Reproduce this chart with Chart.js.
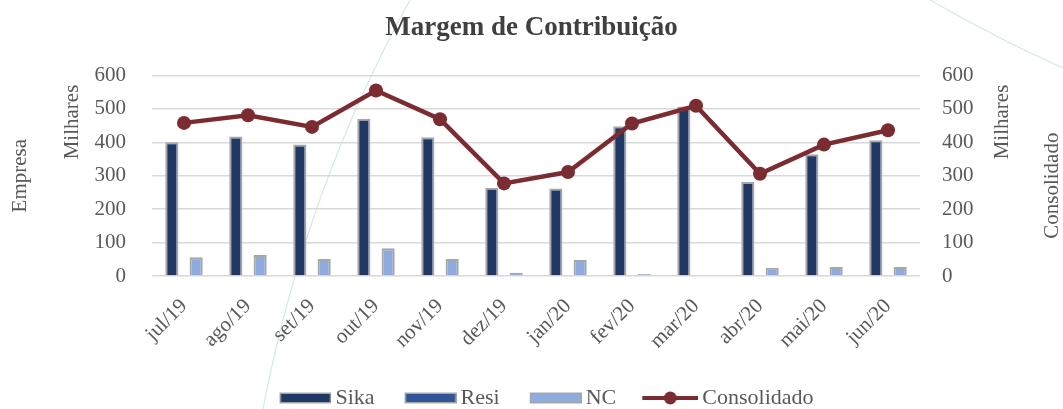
<!DOCTYPE html>
<html>
<head>
<meta charset="utf-8">
<script src="https://cdn.jsdelivr.net/npm/chart.js@4.4.1/dist/chart.umd.min.js"></script>
<style>
  html, body { margin: 0; padding: 0; background: #fff; }
  #wrap { width: 1063px; height: 409px; position: relative; }
</style>
</head>
<body>
<div id="wrap"><canvas id="chart"></canvas></div>
<script>
// values in thousands (Milhares)
const months = ['jul/19', 'ago/19', 'set/19', 'out/19', 'nov/19', 'dez/19', 'jan/20', 'fev/20', 'mar/20', 'abr/20', 'mai/20', 'jun/20'];
const sika = [400, 417, 393, 470, 415, 264, 262, 448, 507, 281, 364, 406];
const resi = [0, 0, 0, 0, 0, 0, 0, 0, 0, 0, 0, 0];
const nc = [56, 63, 51, 83, 51, 10, 48, 6, 2, 25, 27, 27];
const consolidado = [458, 481, 446, 555, 469, 277, 311, 456, 509, 306, 393, 436];
const yTicks = [0, 100, 200, 300, 400, 500, 600];

const SERIF = "'Liberation Serif', 'DejaVu Serif', serif";
const TXT = '#595959';
const LINE_COLOR = '#7b2c31';
const EDGE = '#a6a6a6';

// legend markers: blank lead-in on the left gives the gap between items
const ICON_W = 89, ICON_H = 16;
function boxIcon(color) {
    const c = document.createElement('canvas');
    c.width = ICON_W; c.height = ICON_H;
    const g = c.getContext('2d');
    g.fillStyle = EDGE;
    g.fillRect(ICON_W - 52, 2.5, 52, 11);
    g.fillStyle = color;
    g.fillRect(ICON_W - 50.5, 4, 49, 8);
    return c;
}
function lineIcon() {
    const c = document.createElement('canvas');
    c.width = ICON_W; c.height = ICON_H;
    const g = c.getContext('2d');
    const x0 = ICON_W - 56;
    g.strokeStyle = LINE_COLOR;
    g.lineWidth = 4;
    g.beginPath(); g.moveTo(x0, 8); g.lineTo(ICON_W, 8); g.stroke();
    g.fillStyle = LINE_COLOR;
    g.beginPath(); g.arc(x0 + 28, 8, 6.5, 0, Math.PI * 2); g.fill();
    return c;
}

// faint decorative curves + extra rotated labels
const extras = {
    id: 'extras',
    beforeDraw(chart) {
        const ctx = chart.ctx;
        ctx.save();
        ctx.strokeStyle = 'rgba(185, 215, 215, 0.6)';
        ctx.lineWidth = 1.2;
        ctx.beginPath();
        ctx.moveTo(410, 0);
        ctx.quadraticCurveTo(305, 190, 263, 409);
        ctx.stroke();
        ctx.beginPath();
        ctx.moveTo(930, 0);
        ctx.quadraticCurveTo(1000, 40, 1063, 68);
        ctx.stroke();
        ctx.restore();
    },
    afterDraw(chart) {
        const ctx = chart.ctx;
        const mid = (chart.chartArea.top + chart.chartArea.bottom) / 2;
        const put = (text, x, y) => {
            ctx.save();
            ctx.translate(x, y);
            ctx.rotate(-Math.PI / 2);
            ctx.font = '21px ' + SERIF;
            ctx.fillStyle = TXT;
            ctx.textAlign = 'center';
            ctx.textBaseline = 'middle';
            ctx.fillText(text, 0, 0);
            ctx.restore();
        };
        put('Milhares', 72, 122);
        put('Milhares', 1002, 122);
        put('Consolidado', 1052, mid + 10);
    }
};

const ctx = document.getElementById('chart');
new Chart(ctx, {
    data: {
        labels: months,
        datasets: [
            { type: 'bar', label: 'Sika', data: sika, backgroundColor: '#203864', borderColor: EDGE, borderWidth: 2, yAxisID: 'y', order: 1 },
            { type: 'bar', label: 'Resi', data: resi, backgroundColor: '#2f5597', borderColor: EDGE, borderWidth: 2, yAxisID: 'y', order: 1 },
            { type: 'bar', label: 'NC', data: nc, backgroundColor: '#8faadc', borderColor: EDGE, borderWidth: 2, yAxisID: 'y', order: 1 },
            {
                type: 'line', label: 'Consolidado', data: consolidado, yAxisID: 'y1', order: 0,
                borderColor: LINE_COLOR, backgroundColor: LINE_COLOR, borderWidth: 4.5,
                pointRadius: 7, pointHoverRadius: 7, pointBorderWidth: 0, tension: 0
            }
        ]
    },
    options: {
        responsive: true,
        maintainAspectRatio: false,
        animation: false,
        datasets: { bar: { barPercentage: 1.08, categoryPercentage: 0.57 } },
        layout: { padding: { top: 0, bottom: -10, left: 0, right: 0 } },
        plugins: {
            title: {
                display: true,
                text: 'Margem de Contribuição',
                color: '#404040',
                font: { family: SERIF, size: 27, weight: 'bold' },
                padding: { top: 12, bottom: 31 }
            },
            legend: {
                position: 'bottom',
                labels: {
                    usePointStyle: true,
                    pointStyleWidth: 75,
                    color: TXT,
                    font: { family: SERIF, size: 22 },
                    padding: 0,
                    generateLabels(chart) {
                        const icons = [boxIcon('#203864'), boxIcon('#2f5597'), boxIcon('#8faadc'), lineIcon()];
                        return chart.data.datasets.map((ds, i) => ({
                            text: ds.label,
                            pointStyle: icons[i],
                            fontColor: TXT,
                            hidden: false,
                            datasetIndex: i,
                            lineWidth: 0
                        }));
                    }
                }
            },
            tooltip: { enabled: false }
        },
        scales: {
            x: {
                grid: { display: false },
                border: { display: false },
                ticks: {
                    color: TXT, font: { family: SERIF, size: 21 },
                    maxRotation: 45, minRotation: 45, autoSkip: false, padding: 10
                },
                afterFit(scale) { scale.height = 111; }
            },
            y: {
                position: 'left',
                min: 0, max: 600,
                afterBuildTicks(scale) { scale.ticks = yTicks.map(v => ({ value: v })); },
                ticks: { color: TXT, font: { family: SERIF, size: 21 }, padding: 26 },
                grid: { color: '#d9d9d9', lineWidth: 1.5, drawTicks: false },
                border: { display: false },
                title: { display: true, text: 'Empresa', color: TXT, font: { family: SERIF, size: 21 }, padding: { top: 8, bottom: 0 } },
                afterFit(scale) { scale.width = 152; }
            },
            y1: {
                position: 'right',
                min: 0, max: 600,
                afterBuildTicks(scale) { scale.ticks = yTicks.map(v => ({ value: v })); },
                ticks: { color: TXT, font: { family: SERIF, size: 21 }, padding: 22 },
                grid: { display: false, drawTicks: false },
                border: { display: false },
                afterFit(scale) { scale.width = 143; }
            }
        }
    },
    plugins: [extras]
});
</script>
</body>
</html>
